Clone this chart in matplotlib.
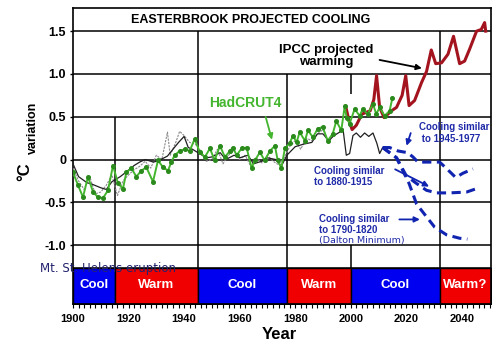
import numpy as np
import matplotlib
matplotlib.use("Agg")
import matplotlib.pyplot as plt

plt.rcParams['font.family'] = ['Liberation Sans', 'DejaVu Sans']

# === данные ===
had_years = [1900, 1901.8, 1903.6, 1905.4, 1907.2, 1909, 1910.8, 1912.6, 1914.4, 1916.2,
             1918, 1919.2, 1921, 1922.8, 1924.6, 1926.4, 1928.8, 1930.6, 1932.4, 1934.2,
             1935.4, 1936.6, 1938.4, 1940.2, 1942, 1943.8, 1945.6, 1947.5, 1949.3, 1951,
             1952.9, 1954.7, 1956.5, 1957.6, 1958.9, 1960.7, 1962.5, 1964.3, 1965.5, 1967.3,
             1969, 1970.9, 1972.7, 1973.7, 1975, 1976.3, 1978, 1979.2, 1980.5, 1981.6,
             1983.5, 1984.6, 1986.4, 1988.1, 1989.9, 1991.7, 1993.5, 1994.8, 1996.6, 1997.8,
             1998.6, 1999.6, 2001.4, 2003.2, 2004.3, 2006.1, 2008, 2009.2, 2010.4, 2012.2,
             2014, 2015]
had_vals = [-0.15, -0.30, -0.44, -0.20, -0.38, -0.44, -0.45, -0.36, -0.07, -0.28,
            -0.34, -0.15, -0.10, -0.20, -0.13, -0.09, -0.26, -0.01, -0.09, -0.13,
            -0.03, 0.05, 0.10, 0.12, 0.10, 0.24, 0.09, 0.03, 0.13, -0.01,
            0.16, 0.03, 0.10, 0.14, 0.05, 0.13, 0.14, -0.10, -0.01, 0.085,
            -0.01, 0.10, 0.16, -0.01, -0.10, 0.13, 0.19, 0.28, 0.20, 0.32,
            0.22, 0.34, 0.26, 0.36, 0.38, 0.22, 0.30, 0.45, 0.34, 0.62,
            0.48, 0.42, 0.59, 0.51, 0.59, 0.53, 0.65, 0.53, 0.61, 0.51,
            0.57, 0.72]

black_years = [1900, 1902, 1905, 1907, 1910, 1912, 1914, 1917, 1919, 1922, 1924, 1926,
               1929, 1931, 1934, 1936, 1938, 1940, 1941.5, 1943, 1946, 1948, 1950, 1953,
               1955, 1958, 1960, 1963, 1965, 1968, 1970, 1973, 1975, 1977, 1980, 1983,
               1986, 1988, 1990, 1992, 1994, 1996, 1997.2, 1998.4, 1999.6, 2000.8, 2002,
               2003.5, 2005, 2006.5, 2008, 2009.4, 2010.4, 2011.5]
black_vals = [-0.05, -0.20, -0.27, -0.29, -0.33, -0.35, -0.26, -0.20, -0.15, -0.07, -0.03, 0.0,
              -0.03, -0.01, 0.04, 0.12, 0.20, 0.27, 0.14, 0.12, 0.06, 0.02, 0.03, 0.08,
              0.0, 0.05, 0.02, 0.05, -0.05, -0.02, 0.02, 0.0, -0.08, 0.05, 0.15, 0.18,
              0.20, 0.30, 0.30, 0.22, 0.28, 0.32, 0.36, 0.05, 0.07, 0.28, 0.31,
              0.26, 0.31, 0.27, 0.31, 0.19, 0.07, 0.14]

grey_years = [1900, 1902, 1904, 1906, 1908, 1910, 1912, 1914, 1916, 1918, 1920, 1922,
              1924, 1926, 1928, 1930, 1932, 1934, 1935, 1937, 1938.4, 1940, 1942, 1944,
              1946, 1948, 1950, 1952, 1954, 1956, 1958, 1960, 1962, 1964, 1966, 1968,
              1970, 1972, 1974, 1976, 1978, 1980, 1982, 1984, 1986, 1988, 1990, 1992, 1994]
grey_vals = [-0.10, -0.25, -0.35, -0.20, -0.40, -0.38, -0.30, -0.18, -0.42, -0.25, -0.18, -0.12,
             -0.08, -0.02, -0.10, 0.05, 0.0, 0.32, 0.05, 0.20, 0.33, 0.28, 0.20, 0.18,
             0.10, -0.02, 0.0, 0.12, -0.05, 0.05, 0.10, 0.0, 0.05, -0.08, 0.02, -0.04,
             0.05, -0.02, -0.06, 0.02, 0.15, 0.22, 0.12, 0.25, 0.22, 0.30, 0.35, 0.20, 0.30]

ipcc_years = [1998.2, 1999.4, 2000.5, 2002, 2004, 2007, 2008.3, 2009.3, 2010.4, 2012,
              2014.7, 2016.5, 2018.5, 2019.8, 2021, 2023, 2025.5, 2027.3, 2029, 2030.6,
              2032.7, 2035, 2037, 2039.2, 2041, 2042.8, 2045.3, 2047, 2048.2, 2048.6]
ipcc_vals = [0.62, 0.45, 0.35, 0.40, 0.53, 0.57, 0.70, 0.98, 0.61, 0.49,
             0.57, 0.61, 0.75, 0.98, 0.63, 0.69, 0.90, 1.03, 1.28, 1.12,
             1.13, 1.23, 1.44, 1.12, 1.15, 1.29, 1.50, 1.52, 1.60, 1.50]

c4577_years = [2011.5, 2014, 2017, 2020.5, 2022.4, 2024.2, 2027, 2032, 2034, 2037.8, 2040.4, 2044]
c4577_vals = [0.14, 0.14, 0.10, 0.08, 0.03, -0.03, -0.03, -0.03, -0.09, -0.21, -0.16, -0.11]

c1880_years = [2011.5, 2016.5, 2020, 2023.7, 2027.3, 2031, 2035.6, 2041.7, 2045.3]
c1880_vals = [0.14, 0.02, -0.19, -0.28, -0.36, -0.39, -0.39, -0.38, -0.34]

dalton_years = [2011.5, 2016.5, 2021, 2023.7, 2027.3, 2030.2, 2034.5, 2039.2, 2042]
dalton_vals = [0.14, 0.02, -0.28, -0.52, -0.67, -0.79, -0.88, -0.92, -0.93]

period_edges = [1900, 1915, 1945, 1977, 2000, 2032, 2050.5]
period_labels = ["Cool", "Warm", "Cool", "Warm", "Cool", "Warm?"]

# === рисунок ===
fig = plt.figure(figsize=(5, 3.5), dpi=100)
ax = fig.add_axes([0.146, 0.131, 0.836, 0.846])
ax.set_xlim(1900, 2050.5)
ax.set_ylim(-1.69, 1.77)

blue_dark = '#1f2aa8'
band_top = -1.27

# сетка-рамки
for yv in [1.5, 1.0, 0.5, 0.0, -0.5, -1.0, band_top]:
    ax.axhline(yv, color='black', lw=1.1, zorder=1)
ax.vlines(1915, -1.69, 0.5, color='black', lw=1.1, zorder=1)
ax.vlines(1945, -1.69, 1.5, color='black', lw=1.1, zorder=1)
ax.vlines(1977, -1.69, 1.0, color='black', lw=1.1, zorder=1)
ax.vlines(2000, 0.77, 1.0, color='black', lw=1.1, zorder=1)
ax.vlines(2000, -1.69, -1.0, color='black', lw=1.1, zorder=1)
ax.vlines(2032, -1.69, 1.5, color='black', lw=1.1, zorder=1)

# полоса Cool/Warm
for i, lab in enumerate(period_labels):
    col = '#0000f0' if lab == "Cool" else '#f00000'
    ax.fill_between([period_edges[i], period_edges[i + 1]], -1.69, band_top,
                    color=col, edgecolor='black', lw=1.0, zorder=2)
    ax.text((period_edges[i] + period_edges[i + 1]) / 2, -1.47, lab, color='white',
            fontsize=9.5, fontweight='bold', ha='center', va='center', zorder=3)

# кривые
ax.plot(grey_years, grey_vals, color='#8a8a8a', lw=0.8, ls=(0, (2, 1)), zorder=3)
ax.plot(black_years, black_vals, color='#202020', lw=0.9, zorder=3)
ax.plot(ipcc_years, ipcc_vals, color='#a3141f', lw=2.2, zorder=4)
for yy, vv in [(c4577_years, c4577_vals), (c1880_years, c1880_vals), (dalton_years, dalton_vals)]:
    ax.plot(yy, vv, color='#1024b0', lw=2.2, ls=(0, (3, 1.8)), zorder=4)
ax.plot(had_years, had_vals, color='#44b52e', lw=1.4, marker='o', ms=2.6,
        mfc='#2a8a1c', mec='#2a8a1c', zorder=5)

# подписи
ax.text(1964, 1.63, "EASTERBROOK PROJECTED COOLING", fontsize=9, fontweight='bold',
        ha='center', va='center')
ax.text(1991, 1.21, "IPCC projected\nwarming", fontsize=9.5, fontweight='bold',
        ha='center', va='center', linespacing=1.05)
ax.annotate('', xy=(2026.6, 1.06), xytext=(2009.4, 1.17),
            arrowprops=dict(arrowstyle='-|>', color='black', lw=1.3, mutation_scale=8))
ax.text(1962.2, 0.66, "HadCRUT4", fontsize=10, fontweight='bold', color='#44b52e',
        ha='center', va='center')
ax.annotate('', xy=(1971.9, 0.2), xytext=(1969.1, 0.53),
            arrowprops=dict(arrowstyle='-|>', color='#44b52e', lw=1.3, mutation_scale=8))

ax.text(2024.5, 0.31, "Cooling similar\n to 1945-1977", fontsize=7, fontweight='bold',
        color=blue_dark, ha='left', va='center', linespacing=1.15)
ax.annotate('', xy=(2019.8, 0.13), xytext=(2021.9, 0.34),
            arrowprops=dict(arrowstyle='-|>', color='#1024b0', lw=1.3, mutation_scale=8))
ax.text(1986.7, -0.195, "Cooling similar\nto 1880-1915", fontsize=7, fontweight='bold',
        color=blue_dark, ha='left', va='center', linespacing=1.15)
ax.annotate('', xy=(2029.1, -0.33), xytext=(2015.1, -0.10),
            arrowprops=dict(arrowstyle='-|>', color='#1024b0', lw=1.3, mutation_scale=8))
ax.text(1988.5, -0.76, "Cooling similar\nto 1790-1820", fontsize=7, fontweight='bold',
        color=blue_dark, ha='left', va='center', linespacing=1.15)
ax.text(1988.5, -0.95, "(Dalton Minimum)", fontsize=6.8, color=blue_dark,
        ha='left', va='center', family='DejaVu Sans')
ax.annotate('', xy=(2025.9, -0.70), xytext=(2016.5, -0.70),
            arrowprops=dict(arrowstyle='-|>', color='#1024b0', lw=1.3, mutation_scale=8))

ax.text(1888, band_top, "Mt. St. Helens eruption", fontsize=8.5, color='#22226e',
        family='DejaVu Sans', ha='left', va='center', clip_on=False, zorder=6)

# оси
ax.set_yticks([1.5, 1.0, 0.5, 0.0, -0.5, -1.0])
ax.set_yticklabels(["1.5", "1.0", "0.5", "0", "-0.5", "-1.0"], fontsize=9, fontweight='bold')
ax.set_xticks(np.arange(1900, 2041, 20))
ax.set_xticks(np.arange(1900, 2051, 2), minor=True)
ax.set_xticklabels([str(y) for y in range(1900, 2041, 20)], fontsize=8, fontweight='bold')
ax.tick_params(axis='y', length=2, width=1, pad=3)
ax.tick_params(axis='x', which='both', length=3, width=0.8, pad=4)
for s in ax.spines.values():
    s.set_linewidth(1.2)

fig.text(0.558, 0.045, "Year", fontsize=12, fontweight='bold', ha='center', va='center')
fig.text(0.05, 0.509, "°C", fontsize=12, fontweight='bold', rotation=90,
         ha='center', va='center')
fig.text(0.066, 0.636, "variation", fontsize=9, fontweight='bold', rotation=90,
         ha='center', va='center')

fig.savefig("out.png", dpi=100)
